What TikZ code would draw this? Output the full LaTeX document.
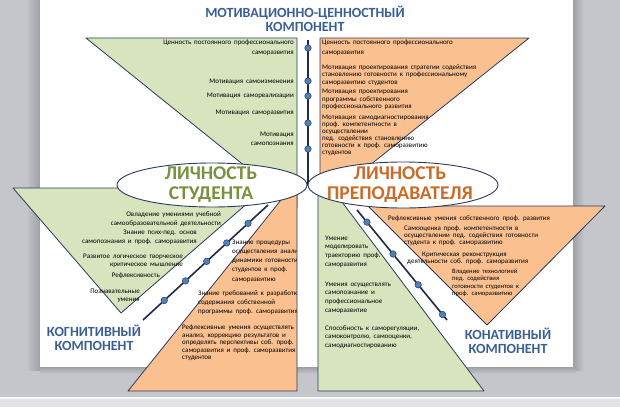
\documentclass[tikz,border=0pt]{standalone}
\usepackage{fontspec}
\setmainfont{Carlito}
\newfontfamily\tinyf[WordSpace=1.8]{Carlito}
\usetikzlibrary{calc}
\definecolor{bggray}{HTML}{C5C6CB}
\definecolor{shadowgray}{HTML}{9EA0A6}
\definecolor{lightstrip}{HTML}{E2E2E6}
\definecolor{grfill}{HTML}{D7E4BD}
\definecolor{orfill}{HTML}{FAC090}
\definecolor{edge}{HTML}{2B3B5C}
\definecolor{axisc}{HTML}{1F2A4A}
\definecolor{dotc}{HTML}{4F81BD}
\definecolor{ttlblue}{HTML}{3A5F95}
\definecolor{stgreen}{HTML}{76923C}
\definecolor{tcorange}{HTML}{CC6A28}
\tikzset{
  shp/.style={draw=edge, line width=0.8pt, line join=round},
  grn/.style={shp, fill=grfill},
  org/.style={shp, fill=orfill},
  axisline/.style={draw=axisc, line width=1.6pt},
  dotn/.style={circle, fill=dotc, draw=edge, line width=0.5pt, inner sep=0pt, minimum size=6.5pt},
  txt/.style={font=\tinyf\fontsize{7}{7.5}\selectfont, inner sep=0pt, text=black},
  txtw/.style={font=\tinyf\fontsize{7}{9.2}\selectfont, inner sep=0pt, text=black},
  ttl/.style={font=\fontsize{14}{14.5}\selectfont\bfseries, text=ttlblue, align=center, inner sep=0pt},
  big/.style={font=\fontsize{19.5}{19.5}\selectfont\bfseries, align=center, inner sep=0pt},
  ell/.style={draw=edge, fill=white, line width=0.9pt},
}
\begin{document}
\begin{tikzpicture}[x=1pt,y=-1pt]
\useasboundingbox (0,0) rectangle (620,407);
% background and page
\fill[bggray] (0,0) rectangle (620,407);
\shade[left color=bggray, right color=shadowgray] (26,0) rectangle (40,370);
\shade[left color=shadowgray, right color=bggray] (573,0) rectangle (584,370);
\shade[top color=shadowgray, bottom color=bggray] (40,367) rectangle (576,374);
\fill[white!90!bggray] (0,397) rectangle (620,399);
\fill[lightstrip] (0,399) rectangle (620,407);
\fill[white] (40,0) rectangle (573,367);

% top shapes
\draw[grn] (86,38) -- (297,38) -- (297,208) -- cycle;
\draw[org] (320,38) -- (529,38) -- (320,205) -- cycle;
% bottom shapes
\draw[grn] (13,188) -- (265,188) -- (121,313) -- cycle;
\draw[org] (128,391) -- (297,391) -- (297,180) -- cycle;
\draw[grn] (318,391) -- (484,391) -- (333,190) -- (318,190) -- cycle;
\draw[org] (368,206) -- (605,206) -- (487,325) -- cycle;

% axes
\coordinate (vt) at (308,40);
\coordinate (vb) at (308,186);
\coordinate (ls) at (268,205);
\coordinate (le) at (143,320);
\coordinate (rs) at (357,210);
\coordinate (re) at (447,320);
\draw[axisline] (vt) -- (vb);
\draw[axisline] (ls) -- (le);
\draw[axisline] (rs) -- (re);
\node[dotn] (m1) at (308,48) {};
\node[dotn] (m2) at (308,81) {};
\node[dotn] (m3) at (308,96) {};
\node[dotn] (m4) at (308,123) {};
\node[dotn] (m5) at (308,149) {};
\node[dotn] (c1) at ($(ls)!0.16!(le)$) {};
\node[dotn] (c2) at ($(ls)!0.33!(le)$) {};
\node[dotn] (c3) at ($(ls)!0.49!(le)$) {};
\node[dotn] (c4) at ($(ls)!0.66!(le)$) {};
\node[dotn] (c5) at ($(ls)!0.83!(le)$) {};
\node[dotn] (k1) at ($(rs)!0.11!(re)$) {};
\node[dotn] (k2) at ($(rs)!0.40!(re)$) {};
\node[dotn] (k3) at ($(rs)!0.68!(re)$) {};
\node[dotn] (k4) at ($(rs)!0.95!(re)$) {};

% top-left green texts
\node[txtw, align=right, anchor=north east] (g1) at (294,40) {Ценность постоянного профессионального\\саморазвития};
\node[txt, anchor=east] (g2) at (294,82) {Мотивация самоизменения};
\node[txt, anchor=east] (g3) at (294,96) {Мотивация самореализации};
\node[txt, anchor=east] (g4) at (294,113) {Мотивация саморазвития};
\node[txtw, align=right, anchor=north east] (g5) at (294,131.5) {Мотивация\\самопознания};

% top-right orange texts
\node[txtw, align=left, anchor=north west] (o1) at (322,40) {Ценность постоянного профессионального\\саморазвития};
\node[txt, align=left, anchor=north west] (o2) at (322,64.5) {Мотивация проектирования стратегии содействия\\становлению готовности к профессиональному\\саморазвитию студентов};
\node[txt, align=left, anchor=north west] (o3) at (322,89) {Мотивация проектирования\\программы собственного\\профессионального развития};
\node[txt, font=\tinyf\fontsize{7}{7.1}\selectfont, align=left, anchor=north west] (o4) at (322,114.5) {Мотивация самодиагностирования\\проф. компетентности в\\осуществлении\\пед. содействия становлению\\готовности к проф. саморазвитию\\студентов};

% bottom-left green texts
\node[txtw, align=right, anchor=north east] (b1) at (221,211.5) {Овладение умениями учебной\\самообразовательной деятельности};
\node[txtw, align=right, anchor=north east] (b2) at (197,229.5) {Знание псих-пед. основ\\самопознания и проф. саморазвития};
\node[txt, font=\tinyf\fontsize{7}{8}\selectfont, align=right, anchor=north east] (b3) at (183,253.5) {Развитое логическое творческое\\критическое мышление};
\node[txt, anchor=east] (b4) at (160,276) {Рефлексивность};
\node[txt, font=\tinyf\fontsize{7}{8}\selectfont, align=right, anchor=north east] (b5) at (140,288.5) {Познавательные\\умения};

% bottom-left orange texts
\begin{scope}
\clip (0,0) rectangle (296.5,407);
\node[txtw, align=left, anchor=north west] (p1) at (232,239.5) {Знание процедуры\\осуществления анализа\\динамики готовности\\студентов к проф.\\саморазвитию};
\node[txtw, align=left, anchor=north west] (p2) at (198,290.5) {Знание требований к разработке\\содержания собственной\\программы проф. саморазвития};
\node[txt, font=\tinyf\fontsize{7}{7.6}\selectfont, align=left, anchor=north west] (p3) at (182,324.5) {Рефлексивные умения осуществлять\\анализ, коррекцию результатов и\\определять перспективы соб. проф.\\саморазвития и проф. саморазвития\\студентов};
\end{scope}

% bottom-right green texts
\node[txt, font=\tinyf\fontsize{7}{8.7}\selectfont, align=left, anchor=north west] (q1) at (325,235.5) {Умение\\моделировать\\траекторию проф.\\саморазвития};
\node[txt, font=\tinyf\fontsize{7}{8.7}\selectfont, align=left, anchor=north west] (q2) at (325,281.5) {Умения осуществлять\\самопознание и\\профессиональное\\саморазвитие};
\node[txt, font=\tinyf\fontsize{7}{8.5}\selectfont, align=left, anchor=north west] (q3) at (325,325.5) {Способность к саморегуляции,\\самоконтролю, самооценки,\\самодиагностированию};

% bottom-right orange texts
\node[txt, anchor=west] (r1) at (388,219) {Рефлексивные умения собственного проф. развития};
\node[txt, font=\tinyf\fontsize{7}{7.1}\selectfont, align=left, anchor=north west] (r2) at (404,225.5) {Самооценка проф. компетентности в\\осуществлении пед. содействия готовности\\студента к проф. саморазвитию};
\node[txt, align=left, anchor=north west] (r3) at (407,251.5) {\hspace*{15pt}Критическая реконструкция\\деятельности соб. проф. саморазвития};
\node[txt, font=\tinyf\fontsize{6.6}{7.5}\selectfont, align=left, anchor=north west] (r4) at (452,268.5) {Владение технологией\\пед. содействия\\готовности студентов к\\проф. саморазвитию};

% ellipses
\draw[ell] (212,185) ellipse [x radius=95, y radius=22];
\draw[ell] (403,185) ellipse [x radius=95, y radius=23];
\node[big, text=stgreen] (stud) at (211,184.5) {ЛИЧНОСТЬ\\СТУДЕНТА};
\node[big, text=tcorange] (teach) at (400,184.5) {ЛИЧНОСТЬ\\ПРЕПОДАВАТЕЛЯ};

% titles
\node[ttl] (motiv) at (305,19) {МОТИВАЦИОННО-ЦЕННОСТНЫЙ\\КОМПОНЕНТ};
\node[ttl] (cogn) at (94,338) {КОГНИТИВНЫЙ\\КОМПОНЕНТ};
\node[ttl] (conat) at (508,341) {КОНАТИВНЫЙ\\КОМПОНЕНТ};
\end{tikzpicture}
\end{document}
